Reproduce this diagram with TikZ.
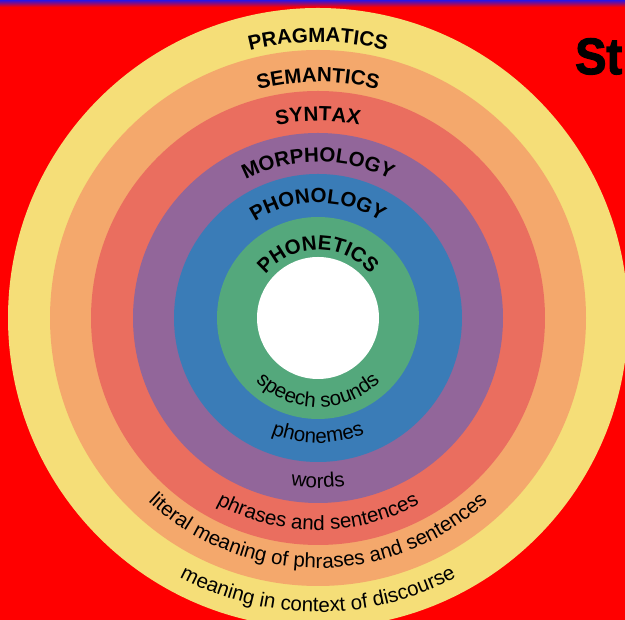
\documentclass[tikz,border=0pt]{standalone}
\usepackage{fontspec}
\setmainfont{Liberation Sans}
\newfontfamily\stfont{Liberation Sans}[FakeBold=2.5]
\usetikzlibrary{decorations.text}
\definecolor{bgred}{RGB}{255,0,0}
\definecolor{topblue}{RGB}{40,20,230}
\definecolor{ringyellow}{RGB}{245,222,120}
\definecolor{ringorange}{RGB}{244,168,108}
\definecolor{ringsalmon}{RGB}{234,110,95}
\definecolor{ringpurple}{RGB}{146,102,154}
\definecolor{ringblue}{RGB}{58,124,183}
\definecolor{ringgreen}{RGB}{84,168,124}
\newcommand\toplabfont{\bfseries\fontsize{20.5}{20.5}\selectfont}
\newcommand\botlabfont{\fontsize{20.5}{20.5}\selectfont}
\tikzset{
  toplab/.style={decorate, decoration={text along path, text align=center, text={|\toplabfont|#1}}},
  botlab/.style={decorate, decoration={text along path, text align=center, text={|\botlabfont|#1}}},
}
\begin{document}
\begin{tikzpicture}[x=1pt,y=1pt]
\useasboundingbox (0,0) rectangle (625,620);
\clip (0,0) rectangle (625,620);
\fill[bgred] (0,0) rectangle (625,620);
\shade[top color=topblue, bottom color=bgred] (0,613) rectangle (625,620);
\coordinate (c) at (318,302);
\fill[ringyellow] (c) circle[radius=310];
\fill[ringorange] (c) circle[radius=268];
\fill[ringsalmon] (c) circle[radius=227];
\fill[ringpurple] (c) circle[radius=185];
\fill[ringblue] (c) circle[radius=144];
\fill[ringgreen] (c) circle[radius=101];
\fill[white] (c) circle[radius=61];
% top labels
\path[toplab={PRAGMATICS}] (c) ++(180:276) arc[start angle=180,end angle=0,radius=276];
\path[toplab={SEMANTICS}] (c) ++(180:236) arc[start angle=180,end angle=0,radius=236];
\path[toplab={SYNTAX}] (c) ++(180:197) arc[start angle=180,end angle=0,radius=197];
\path[toplab={MORPHOLOGY}] (c) ++(180:156) arc[start angle=180,end angle=0,radius=156];
\path[toplab={PHONOLOGY}] (c) ++(180:115) arc[start angle=180,end angle=0,radius=115];
\path[toplab={PHONETICS}] (c) ++(180:68) arc[start angle=180,end angle=0,radius=68];
% bottom labels
\path[botlab={speech sounds}] (c) ++(180:89) arc[start angle=180,end angle=360,radius=89];
\path[botlab={phonemes}] (c) ++(180:125) arc[start angle=180,end angle=360,radius=125];
\path[botlab={words}] (c) ++(180:170) arc[start angle=180,end angle=360,radius=170];
\path[botlab={phrases and sentences}] (c) ++(180:212) arc[start angle=180,end angle=360,radius=212];
\path[botlab={literal meaning of phrases and sentences}] (c) ++(180:250) arc[start angle=180,end angle=360,radius=250];
\path[botlab={meaning in context of discourse}] (c) ++(180:294) arc[start angle=180,end angle=360,radius=294];
% title fragment
\node (st) [anchor=base west, inner sep=0pt, xscale=0.92, font=\stfont\bfseries\fontsize{51}{51}\selectfont] at (575,546) {St};
\end{tikzpicture}
\end{document}
